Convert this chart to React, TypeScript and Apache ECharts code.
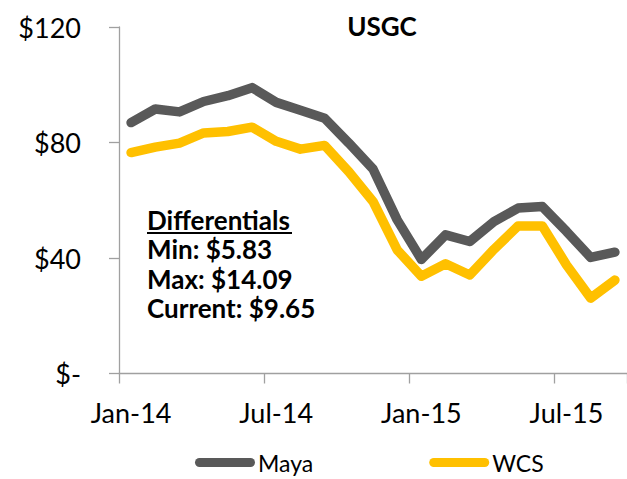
import React, { useEffect, useRef } from "react";
import * as echarts from "echarts";

const months = [
  "Jan-14", "Feb-14", "Mar-14", "Apr-14", "May-14", "Jun-14", "Jul-14", "Aug-14", "Sep-14", "Oct-14", "Nov-14", "Dec-14",
  "Jan-15", "Feb-15", "Mar-15", "Apr-15", "May-15", "Jun-15", "Jul-15", "Aug-15", "Sep-15",
];
const maya = [86.9, 91.6, 90.6, 94.2, 96.2, 99.0, 93.9, 91.2, 88.4, 79.8, 70.8, 53.2, 39.5, 48.0, 45.7, 52.6, 57.3, 57.8, 49.2, 40.2, 42.0];
const wcs = [76.5, 78.4, 79.8, 83.3, 83.8, 85.3, 80.4, 77.7, 79.0, 69.9, 59.6, 42.8, 33.7, 38.0, 34.1, 43.0, 51.1, 51.1, 37.6, 26.1, 32.35];
const yTicks = [0, 40, 80, 120];
const annotationTitle = "Differentials";
const annotationLines = ["Min: $5.83", "Max: $14.09", "Current: $9.65"];

const FONT = "Lato";

export default function App() {
  const ref = useRef<HTMLDivElement>(null);
  useEffect(() => {
    if (!ref.current) return;
    const chart = echarts.init(ref.current, null, { renderer: "svg" });
    const pill = "path://M4.5,0 H55.5 A4.5,4.5 0 0 1 55.5,9 H4.5 A4.5,4.5 0 0 1 4.5,0 Z";
    const lineTops = [236, 266, 295];
    chart.setOption({
      animation: false,
      backgroundColor: "#ffffff",
      textStyle: { fontFamily: FONT },
      title: {
        text: "USGC",
        left: 377,
        top: 8,
        textAlign: "center",
        textStyle: { fontFamily: FONT, fontWeight: "bold", fontSize: 26, color: "#000" },
      },
      grid: { left: 119, right: -8.6, top: 27, bottom: 105.5, containLabel: false },
      legend: {
        left: 190,
        top: 446,
        itemWidth: 60,
        itemHeight: 9,
        itemGap: 116,
        textStyle: { fontFamily: FONT, fontSize: 23, lineHeight: 23, color: "#000", padding: [0, 0, 0, -2] },
        data: [
          { name: "Maya", icon: pill },
          { name: "WCS", icon: pill },
        ],
      },
      xAxis: {
        type: "category",
        data: months,
        boundaryGap: true,
        axisLine: { lineStyle: { color: "#A0A0A0", width: 1.3 } },
        axisTick: { show: true, interval: 5, length: 10, alignWithLabel: false, lineStyle: { color: "#A0A0A0", width: 1.3 } },
        axisLabel: { interval: 5, margin: 25, fontFamily: FONT, fontSize: 27, color: "#000" },
        splitLine: { show: false },
      },
      yAxis: {
        type: "value",
        min: yTicks[0],
        max: yTicks[yTicks.length - 1],
        interval: 40,
        axisLine: { show: true, lineStyle: { color: "#A0A0A0", width: 1.3 } },
        axisTick: { show: true, length: 10, lineStyle: { color: "#A0A0A0", width: 1.3 } },
        axisLabel: {
          margin: 38,
          fontFamily: FONT,
          fontSize: 27,
          color: "#000",
          formatter: (v: number) => (v === 0 ? "$-" : "$" + v),
        },
        splitLine: { show: false },
      },
      series: [
        {
          name: "Maya",
          type: "line",
          data: maya,
          showSymbol: false,
          symbol: "none",
          color: "#595959",
          lineStyle: { color: "#595959", width: 9.5, cap: "round", join: "round" },
        },
        {
          name: "WCS",
          type: "line",
          data: wcs,
          showSymbol: false,
          symbol: "none",
          color: "#FFC000",
          lineStyle: { color: "#FFC000", width: 9.5, cap: "round", join: "round" },
        },
      ],
      graphic: [
        {
          type: "text",
          left: 147,
          top: 207,
          style: { text: annotationTitle, font: `bold 26px ${FONT}`, lineHeight: 26, fill: "#000" },
        },
        {
          type: "rect",
          shape: { x: 147, y: 232, width: 145, height: 2 },
          style: { fill: "#000" },
        },
        ...annotationLines.map((t, i) => ({
          type: "text",
          left: 147,
          top: lineTops[i],
          style: { text: t, font: `bold 26px ${FONT}`, lineHeight: 26, fill: "#000" },
        })),
      ],
    });
    return () => chart.dispose();
  }, []);
  return (
    <div style={{ position: "fixed", left: 0, top: 0, width: 627, height: 479, overflow: "hidden" }}>
      <div ref={ref} style={{ width: 627, height: 479 }} />
    </div>
  );
}
